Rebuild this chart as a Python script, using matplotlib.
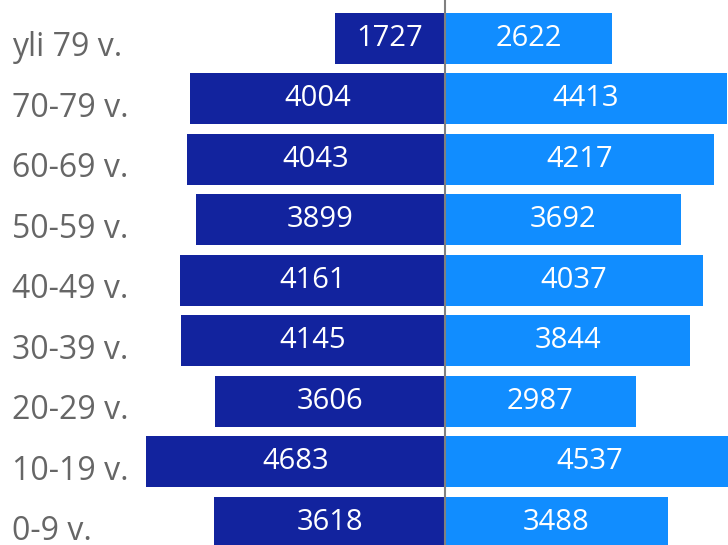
import matplotlib.pyplot as plt
import matplotlib.transforms as mtransforms

ages = ['0-9 v.', '10-19 v.', '20-29 v.', '30-39 v.', '40-49 v.',
        '50-59 v.', '60-69 v.', '70-79 v.', 'yli 79 v.']
left_vals = [3618, 4683, 3606, 4145, 4161, 3899, 4043, 4004, 1727]
right_vals = [3488, 4537, 2987, 3844, 4037, 3692, 4217, 4413, 2622]

dark = '#12239E'
light = '#118DFF'

plt.rcParams['font.family'] = ['Open Sans', 'DejaVu Sans']

fig = plt.figure(figsize=(7.28, 5.45), dpi=100)
ax = fig.add_axes([0, 0, 1, 1])

y = list(range(len(ages)))
ax.barh(y, [-v for v in left_vals], height=0.843, color=dark)
ax.barh(y, right_vals, height=0.843, color=light)
ax.axvline(0, color='#808080', lw=1.5)

for i, (l, r) in enumerate(zip(left_vals, right_vals)):
    ax.text(-l / 2, i, str(l), color='white', ha='center', va='center', fontsize=21)
    ax.text(r / 2, i, str(r), color='white', ha='center', va='center', fontsize=21)

# age labels sit a bit below the bar centres, like in the original
trans = mtransforms.blended_transform_factory(fig.transFigure, ax.transData)
for i, lab in enumerate(ages):
    ax.text(12 / 728, i - 0.15, lab, transform=trans, color='#666666',
            ha='left', va='center', fontsize=23)

ax.set_xlim(-6975, 4436)
ax.set_ylim(-0.372, 8.636)
ax.axis('off')

fig.savefig('out.png', dpi=100)
